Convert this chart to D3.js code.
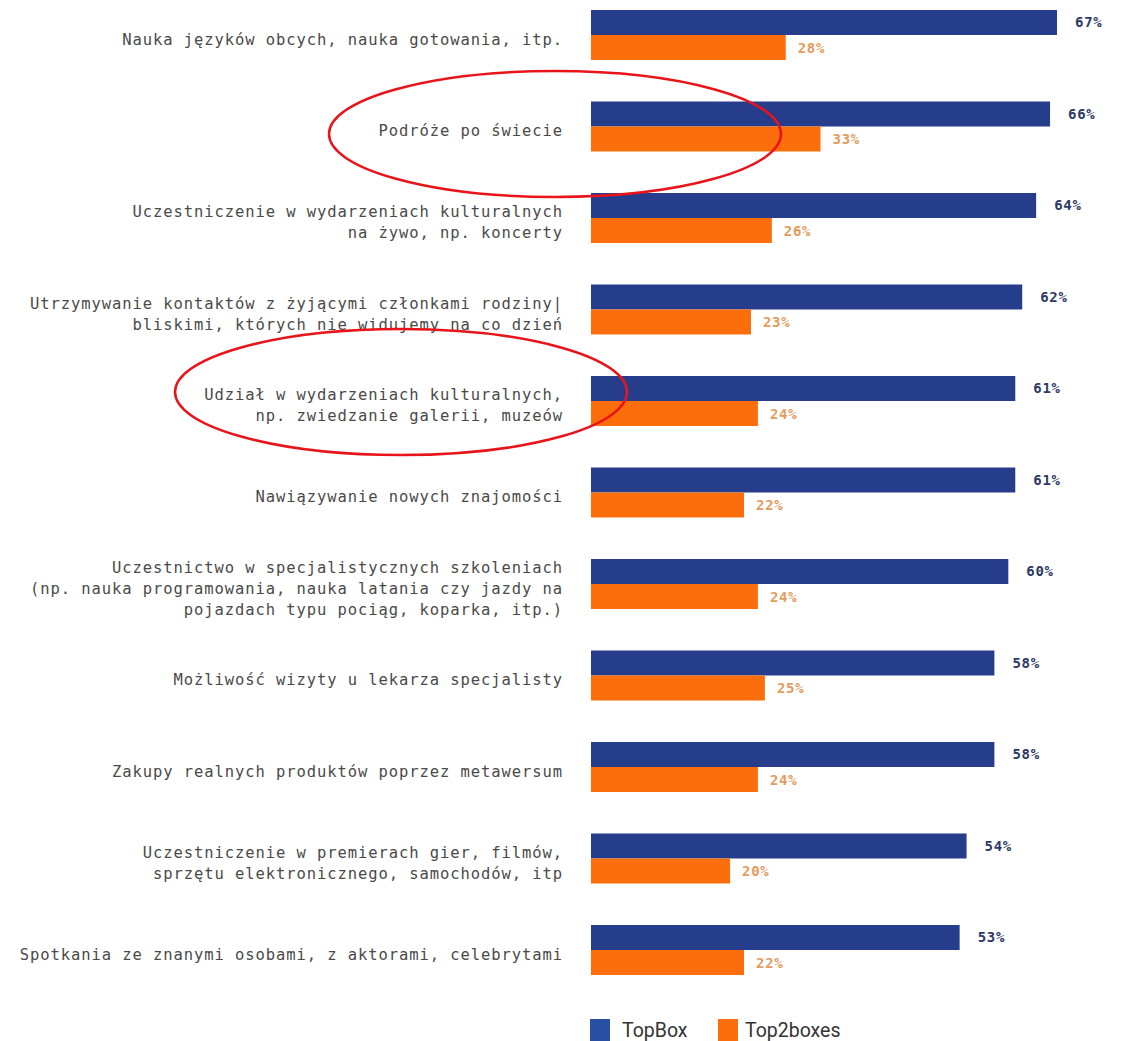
<!DOCTYPE html>
<html>
<head>
<meta charset="utf-8">
<script src="https://cdn.jsdelivr.net/npm/d3@7"></script>
<style>
  body { margin: 0; background: #fff; }
  svg { display: block; }
</style>
</head>
<body>
<svg id="chart" width="1121" height="1041"></svg>
<script>
// category labels (line breaks as in the source)
var categories = [
    ["Nauka języków obcych, nauka gotowania, itp."],
    ["Podróże po świecie"],
    ["Uczestniczenie w wydarzeniach kulturalnych", "na żywo, np. koncerty"],
    ["Utrzymywanie kontaktów z żyjącymi członkami rodziny|", "bliskimi, których nie widujemy na co dzień"],
    ["Udział w wydarzeniach kulturalnych,", "np. zwiedzanie galerii, muzeów"],
    ["Nawiązywanie nowych znajomości"],
    ["Uczestnictwo w specjalistycznych szkoleniach", "(np. nauka programowania, nauka latania czy jazdy na", "pojazdach typu pociąg, koparka, itp.)"],
    ["Możliwość wizyty u lekarza specjalisty"],
    ["Zakupy realnych produktów poprzez metawersum"],
    ["Uczestniczenie w premierach gier, filmów,", "sprzętu elektronicznego, samochodów, itp"],
    ["Spotkania ze znanymi osobami, z aktorami, celebrytami"]
];
var topBox = [67, 66, 64, 62, 61, 61, 60, 58, 58, 54, 53];
var top2boxes = [28, 33, 26, 23, 24, 22, 24, 25, 24, 20, 22];
var seriesNames = ["TopBox", "Top2boxes"];

// red hand-drawn annotation ellipses (centres)
var notes = [
    { cx: 555, cy: 134 },
    { cx: 401, cy: 392 }
];

var blue = "#263d8c", orange = "#fb6e0b";

var svg = d3.select("#chart");

var x = d3.scaleLinear().domain([0, 67]).range([591, 1057]);

var step = 91.5, pad = 0.4536;
var y = d3.scaleBand()
    .domain(d3.range(categories.length))
    .range([10, 10 + step * (categories.length - pad)])
    .paddingInner(pad)
    .paddingOuter(0);

var barH = y.bandwidth() / 2;

var rows = svg.selectAll("g.row")
    .data(categories)
    .enter()
    .append("g")
    .attr("class", "row")
    .attr("transform", function(d, i) { return "translate(0," + y(i) + ")"; });

// blue bars
rows.append("rect")
    .attr("x", x(0))
    .attr("y", 0)
    .attr("width", function(d, i) { return x(topBox[i]) - x(0); })
    .attr("height", barH)
    .style("fill", blue);

// orange bars
rows.append("rect")
    .attr("x", x(0))
    .attr("y", barH)
    .attr("width", function(d, i) { return x(top2boxes[i]) - x(0); })
    .attr("height", barH)
    .style("fill", orange);

// value labels
rows.append("text")
    .attr("x", function(d, i) { return x(topBox[i]) + 18; })
    .attr("y", barH / 2 + 5)
    .text(function(d, i) { return topBox[i] + "%"; })
    .style("font-family", "'DejaVu Sans Mono', monospace")
    .style("font-weight", "bold")
    .style("font-size", "14px")
    .style("letter-spacing", "0.7px")
    .style("fill", "#2e3a66");

rows.append("text")
    .attr("x", function(d, i) { return x(top2boxes[i]) + 12; })
    .attr("y", barH * 1.5 + 5.5)
    .text(function(d, i) { return top2boxes[i] + "%"; })
    .style("font-family", "'DejaVu Sans Mono', monospace")
    .style("font-weight", "bold")
    .style("font-size", "14px")
    .style("letter-spacing", "0.7px")
    .style("fill", "#e39c5c");

// category labels, right aligned, centred on group
var lineH = 21;
rows.append("text")
    .attr("text-anchor", "end")
    .style("font-family", "'DejaVu Sans Mono', monospace")
    .style("font-size", "15.5px")
    .style("letter-spacing", "0.92px")
    .style("fill", "#4a4a4a")
    .each(function(d) {
        var t = d3.select(this);
        var start = barH + 10 - (d.length - 1) * lineH / 2;
        d.forEach(function(line, k) {
            t.append("tspan")
                .attr("x", 563)
                .attr("y", start + k * lineH)
                .text(line);
        });
    });

// red annotation ellipses
svg.selectAll("ellipse.note")
    .data(notes)
    .enter()
    .append("ellipse")
    .attr("class", "note")
    .attr("cx", function(d) { return d.cx; })
    .attr("cy", function(d) { return d.cy; })
    .attr("rx", 226)
    .attr("ry", 63)
    .style("fill", "none")
    .style("stroke", "#e8141a")
    .style("stroke-width", 2.5);

// legend
var legendX = [590, 718];
var legend = svg.selectAll("g.legend")
    .data(seriesNames)
    .enter()
    .append("g")
    .attr("class", "legend")
    .attr("transform", function(d, i) { return "translate(" + legendX[i] + ",1019)"; });

legend.append("rect")
    .attr("width", 20)
    .attr("height", 22)
    .style("fill", function(d, i) { return i === 0 ? "#2851a3" : orange; });

legend.append("text")
    .attr("x", function(d, i) { return i === 0 ? 32 : 27; })
    .attr("y", 18)
    .text(function(d) { return d; })
    .style("font-family", "Roboto, sans-serif")
    .style("font-size", "19.5px")
    .style("fill", "#333");
</script>
</body>
</html>
